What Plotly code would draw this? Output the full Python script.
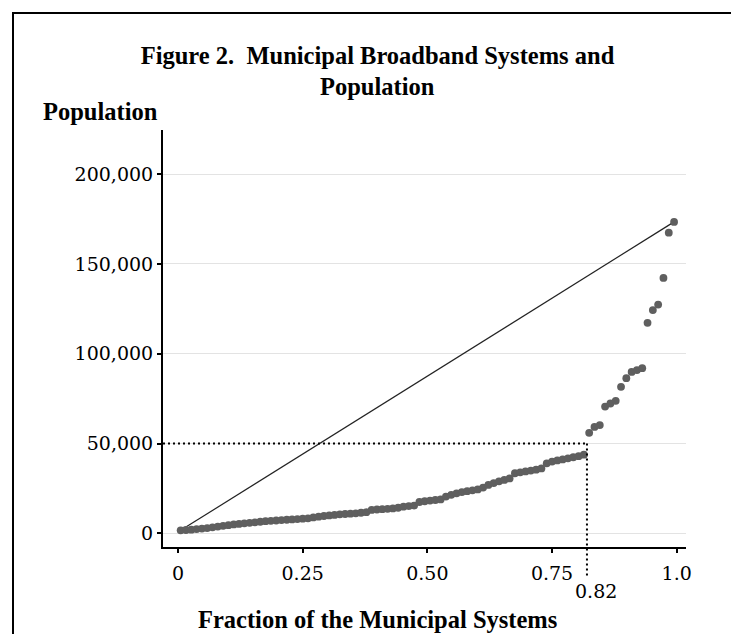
import plotly.graph_objects as go

# Population of each municipal broadband system, sorted ascending
population = [
    1700, 1900, 2100, 2400, 2700,
    3000, 3400, 3800, 4200, 4600, 5000,
    5300, 5600, 5900, 6200, 6500, 6800,
    7000, 7200, 7400, 7600, 7800, 8000, 8200,
    8400, 8900, 9300, 9700, 10000, 10300, 10600,
    10800, 11000, 11200, 11500, 11800,
    13100, 13300, 13500, 13700, 13900, 14300,
    14900, 15200, 15500,
    17500, 17900, 18300, 18600, 18900,
    20500, 21500, 22300,
    23000, 23500, 24000, 24500, 25500, 27000,
    28000, 29000, 29800, 30600,
    33500, 34000, 34500, 35000, 35500, 36200,
    39000, 40000, 40600, 41200, 41800, 42400, 43000, 43800,
    56000, 59300, 60300, 70600, 72300, 73800, 81600, 86400,
    89900, 90900, 92000, 117200, 124300, 127400, 142200, 167400, 173400,
]
n = len(population)
fraction = [(i + 0.5) / n for i in range(n)]

x_tickvals = [0, 0.25, 0.5, 0.75, 1.0]
x_ticktext = ["0", "0.25", "0.50", "0.75", "1.0"]
y_tickvals = [0, 50000, 100000, 150000, 200000]
y_ticktext = ["0", "50,000", "100,000", "150,000", "200,000"]

cut_fraction = 0.82
cut_population = 50000

title_line1 = "Figure 2.\u00a0 Municipal Broadband Systems and"
title_line2 = "Population"
y_title = "Population"
x_title = "Fraction of the Municipal Systems"

FONT = "DejaVu Serif"
BOLD_FONT = "Liberation Serif"
BOLD = 24.5

fig = go.Figure()
fig.add_trace(go.Scatter(
    x=[fraction[0], fraction[-1]], y=[population[0], population[-1]],
    mode="lines", line=dict(color="#222222", width=1.2),
    hoverinfo="skip", showlegend=False,
))
fig.add_trace(go.Scatter(
    x=fraction, y=population, mode="markers",
    marker=dict(color="#5f5f5f", size=7.8, line=dict(width=0)),
    showlegend=False,
))

x_range = [-0.0301, 1.0186]
y_range = [-7560, 224540]

def ypaper(v):
    return (v - y_range[0]) / (y_range[1] - y_range[0])

shapes = [
    dict(type="line", xref="x", yref="y", x0=x_range[0], x1=cut_fraction,
         y0=cut_population, y1=cut_population,
         line=dict(color="black", width=2, dash="2px,3px")),
    dict(type="line", xref="x", yref="paper", x0=cut_fraction, x1=cut_fraction,
         y0=ypaper(cut_population), y1=-0.069,
         line=dict(color="black", width=2, dash="2px,3px")),
    # frame
    dict(type="path", xref="paper", yref="paper",
         path="M -0.2868,-0.4 L -0.2868,1.2804 L 1.107,1.2804 L 1.107,-0.4",
         line=dict(color="black", width=2)),
]

bold_font = dict(family=BOLD_FONT, size=BOLD, color="black")

fig.update_layout(
    width=739, height=634,
    margin=dict(l=155, r=61, t=122, b=95),
    paper_bgcolor="white", plot_bgcolor="white",
    font=dict(family=FONT, color="black", size=19),
    title=dict(
        text="<b>" + title_line1 + "</b>",
        x=0.5, xref="container", xanchor="center",
        y=1 - 47 / 634, yref="container", yanchor="middle",
        font=bold_font,
    ),
    xaxis=dict(
        range=x_range, tickvals=x_tickvals, ticktext=x_ticktext,
        showgrid=False, zeroline=False,
        showline=True, linecolor="black", linewidth=2,
        ticks="outside", ticklen=4, tickwidth=2, tickcolor="black",
        tickfont=dict(size=19), ticklabelstandoff=4,
    ),
    yaxis=dict(
        range=y_range, tickvals=y_tickvals, ticktext=y_ticktext,
        showgrid=True, gridcolor="#e3e3e3", gridwidth=1, zeroline=False,
        showline=True, linecolor="black", linewidth=2,
        ticks="outside", ticklen=4, tickwidth=2, tickcolor="black",
        tickfont=dict(size=19),
    ),
    shapes=shapes,
    annotations=[
        dict(text="<b>" + title_line2 + "</b>", xref="paper", yref="paper",
             x=(369.5 - 155) / 523, y=(539.3 - 78) / 417.3,
             xanchor="center", yanchor="middle",
             showarrow=False, font=bold_font),
        dict(text="<b>" + y_title + "</b>", xref="paper", yref="paper",
             x=-0.233, y=1.0455, xanchor="left", yanchor="middle",
             showarrow=False, font=bold_font),
        dict(text="<b>" + x_title + "</b>", xref="paper", yref="paper",
             x=0.41, y=-0.174, xanchor="center", yanchor="middle",
             showarrow=False, font=bold_font),
        dict(text="0.82", xref="x", yref="paper", x=cut_fraction, y=-0.105,
             xanchor="left", yanchor="middle", showarrow=False, font=dict(size=19),
             xshift=-14),
    ],
)

fig.write_html("out.html")
